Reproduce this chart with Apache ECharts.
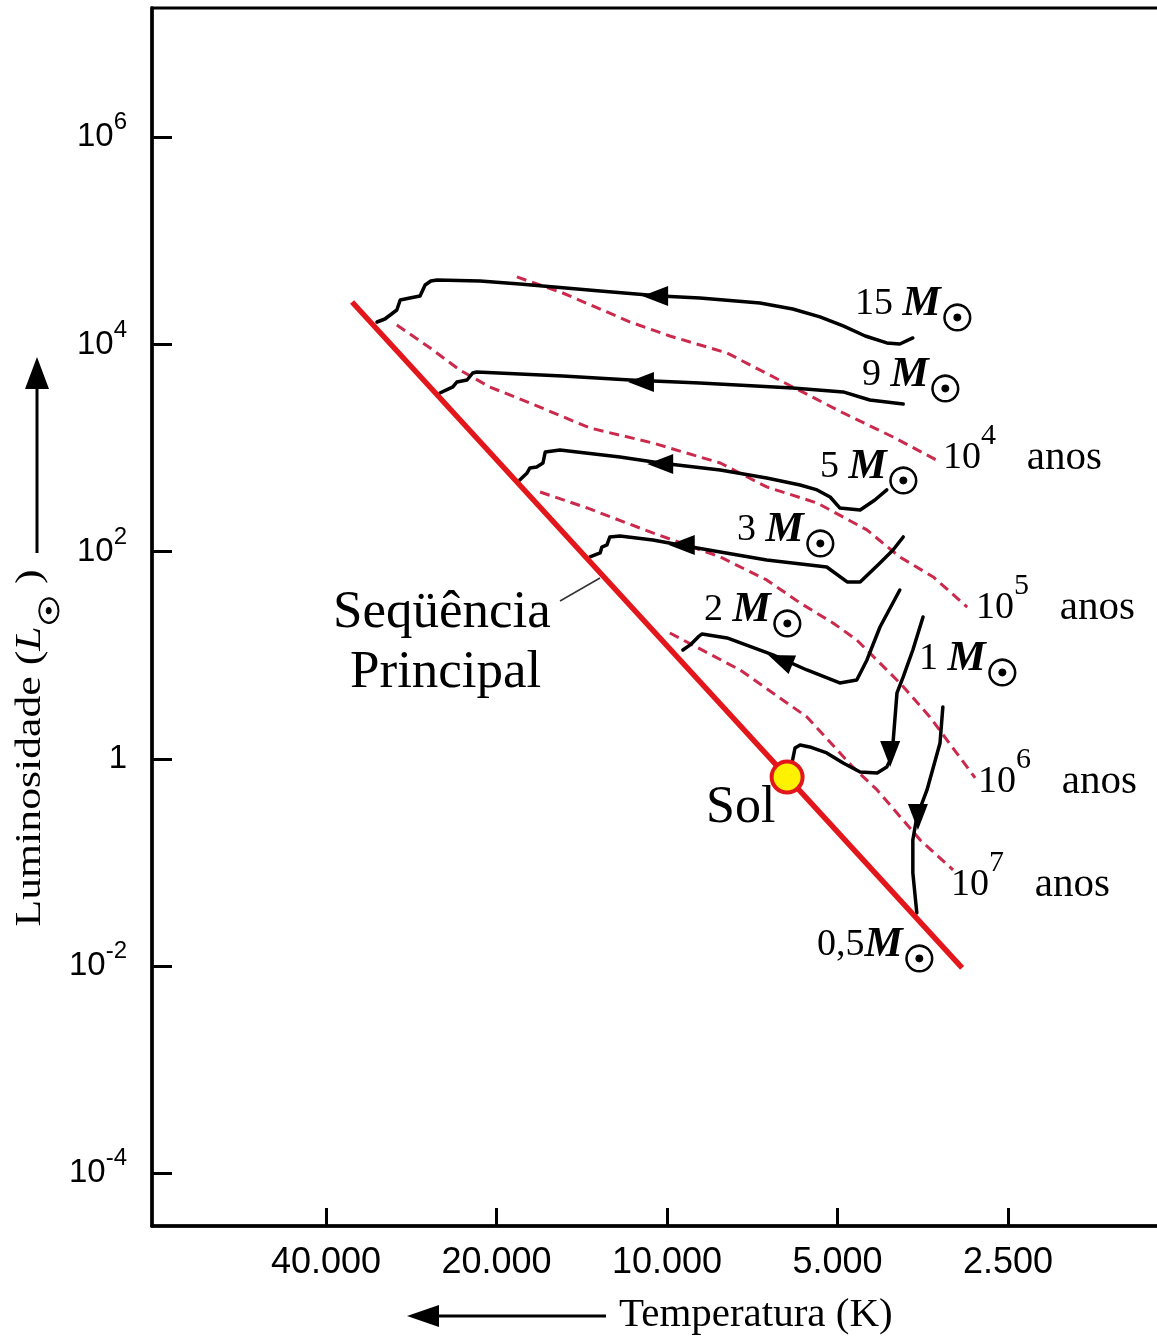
<!DOCTYPE html>
<html><head><meta charset="utf-8">
<script src="https://cdn.jsdelivr.net/npm/echarts@6/dist/echarts.min.js"></script>
<style>html,body{margin:0;padding:0;background:#fff}#c{width:1157px;height:1337px}</style>
</head><body><div id="c"></div>
<script>
// ---- tick definitions ----
const tempTicksK = [40000, 20000, 10000, 5000, 2500];
const tempTickLabels = ['40.000', '20.000', '10.000', '5.000', '2.500'];
const lumTickExp = [-4, -2, 0, 2, 4, 6];

// ---- data: [log10 T(K), log10 L(Lsun)] ----
const mainSequence = [[4.556, 4.410], [3.479, -2.018]];

const track15 = [[4.512,4.217],[4.498,4.246],[4.477,4.333],[4.471,4.430],[4.454,4.449],[4.436,4.468],[4.427,4.574],[4.417,4.613],[4.406,4.623],[4.330,4.613],[4.260,4.584],[4.118,4.516],[4.012,4.468],[3.942,4.449],[3.836,4.401],[3.778,4.343],[3.730,4.266],[3.689,4.179],[3.650,4.082],[3.612,4.015],[3.589,4.005],[3.566,4.063]];
const track9 = [[4.401,3.532],[4.378,3.590],[4.371,3.638],[4.353,3.657],[4.343,3.725],[4.336,3.735],[4.184,3.696],[4.065,3.657],[3.942,3.628],[3.778,3.580],[3.689,3.542],[3.642,3.464],[3.583,3.426]];
const track5 = [[4.260,2.692],[4.247,2.760],[4.242,2.808],[4.230,2.818],[4.219,2.856],[4.215,2.962],[4.189,2.982],[4.083,2.914],[4.012,2.856],[3.906,2.789],[3.824,2.711],[3.765,2.644],[3.735,2.596],[3.712,2.528],[3.695,2.422],[3.659,2.403],[3.633,2.499],[3.612,2.596]];
const track3 = [[4.136,1.949],[4.118,1.988],[4.115,2.045],[4.106,2.065],[4.101,2.142],[4.083,2.152],[4.025,2.113],[3.977,2.065],[3.906,1.997],[3.824,1.920],[3.718,1.852],[3.682,1.708],[3.659,1.708],[3.624,1.891],[3.601,2.016],[3.583,2.142]];
const track2 = [[3.972,1.051],[3.959,1.100],[3.945,1.177],[3.938,1.206],[3.894,1.167],[3.813,1.003],[3.753,0.858],[3.695,0.733],[3.665,0.762],[3.647,0.955],[3.624,1.273],[3.589,1.630]];
const track1 = [[3.548,1.370],[3.566,1.051],[3.583,0.791],[3.594,0.636],[3.601,0.154],[3.606,-0.011],[3.612,-0.078],[3.629,-0.136],[3.659,-0.126],[3.689,-0.040],[3.718,0.057],[3.748,0.115],[3.765,0.134],[3.774,0.105],[3.779,-0.030]];
const track05 = [[3.513,0.501],[3.518,0.154],[3.541,-0.300],[3.559,-0.561],[3.566,-0.783],[3.566,-1.101],[3.559,-1.487]];

const iso1e4 = [[4.265,4.652],[4.184,4.497],[4.065,4.217],[3.995,4.082],[3.894,3.918],[3.778,3.590],[3.689,3.339],[3.601,3.107],[3.518,2.866]];
const iso1e5 = [[4.477,4.188],[4.418,3.966],[4.366,3.754],[4.313,3.590],[4.242,3.435],[4.136,3.194],[4.025,3.049],[3.906,2.856],[3.824,2.625],[3.735,2.470],[3.647,2.210],[3.589,1.949],[3.530,1.756],[3.470,1.466]];
const iso1e6 = [[4.224,2.576],[4.141,2.422],[4.025,2.181],[3.906,1.949],[3.824,1.727],[3.765,1.505],[3.707,1.312],[3.665,1.148],[3.589,0.733],[3.536,0.405],[3.456,-0.184]];
const iso1e7 = [[3.995,1.215],[3.871,0.858],[3.753,0.405],[3.672,-0.078],[3.629,-0.300],[3.553,-0.783],[3.495,-1.072]];

// arrowheads on the tracks (position) and their direction (degrees, CCW from up)
const arrowPoints = [[4.021,4.468],[4.046,3.638],[4.012,2.846],[3.974,2.065],[3.800,0.955],[3.606,0.047],[3.557,-0.561]];
const arrowAngles = [90, 90, 90, 90, 68, 180, 180];

const sunPoint = [[3.788, -0.175]];

// ---- chart ----
const xTickVals = tempTicksK.map(t => Math.log10(t));
const chart = echarts.init(document.getElementById('c'));

function lineSeries(data, style, z) {
  return { type: 'line', data: data, symbol: 'none', showSymbol: false, silent: true,
    animation: false, z: z, lineStyle: style };
}
const trackStyle = { color: '#000', width: 3.5, join: 'round', cap: 'round' };
const isoStyle = { color: '#cc2a4c', width: 3, type: [10, 6] };

const serif = 'Liberation Serif';
const massRich = {
  n: { fontFamily: serif, fontSize: 38, lineHeight: 44, fill: '#000' },
  m: { fontFamily: serif, fontSize: 43, fontWeight: 'bold', fontStyle: 'italic', lineHeight: 44, fill: '#000' },
  o: { fontFamily: 'DejaVu Sans', fontSize: 37, lineHeight: 44, verticalAlign: 'bottom', height: 10,
       fill: '#000', stroke: '#000', lineWidth: 1.2 }
};
const isoRich = {
  n: { fontFamily: serif, fontSize: 38, lineHeight: 46, fill: '#000' },
  s: { fontFamily: serif, fontSize: 30, lineHeight: 46, verticalAlign: 'top', height: 2, fill: '#000' },
  a: { fontFamily: serif, fontSize: 41, lineHeight: 46, fill: '#000' }
};
function massText(x, y, num) {
  return { type: 'text', x: x, y: y, z: 10, style: { text: '{n|' + num + '}{m|M}{o|☉}', rich: massRich,
    align: 'left', verticalAlign: 'middle', fill: '#000' } };
}
function isoText(x, y, e) {
  return { type: 'text', x: x, y: y, z: 10, style: { text: '{n|10}{s|' + e + '}{a|   anos}', rich: isoRich,
    align: 'left', verticalAlign: 'middle', fill: '#000' } };
}
function plain(x, y, txt, size) {
  return { type: 'text', x: x, y: y, z: 10, style: { text: txt, fontFamily: serif, fontSize: size,
    fill: '#000', align: 'left', verticalAlign: 'middle' } };
}

const option = {
  animation: false,
  backgroundColor: '#fff',
  grid: { left: 152, top: 8, width: 1015, height: 1218, show: true, borderColor: '#000', borderWidth: 3,
    backgroundColor: 'transparent', containLabel: false, outerBoundsMode: 'none' },
  xAxis: {
    type: 'value', position: 'bottom', inverse: true, min: 3.1173, max: 4.9092,
    splitLine: { show: false },
    axisLine: { show: true, onZero: false, lineStyle: { color: '#000', width: 3.5 } },
    axisTick: { show: true, inside: true, length: 18, lineStyle: { color: '#000', width: 3 }, customValues: xTickVals },
    axisLabel: { show: true, margin: 19, fontSize: 36, fontFamily: 'Liberation Sans', color: '#000',
      customValues: xTickVals,
      formatter: function (v) {
        for (let i = 0; i < xTickVals.length; i++) if (Math.abs(xTickVals[i] - v) < 1e-6) return tempTickLabels[i];
        return '';
      } }
  },
  yAxis: {
    type: 'value', position: 'left', min: -4.509, max: 7.248,
    splitLine: { show: false },
    axisLine: { show: true, onZero: false, lineStyle: { color: '#000', width: 3.5 } },
    axisTick: { show: true, inside: true, length: 20, lineStyle: { color: '#000', width: 3 }, customValues: lumTickExp },
    axisLabel: { show: true, margin: 25, color: '#000', customValues: lumTickExp,
      formatter: function (v) {
        const e = Math.round(v);
        return e === 0 ? '{b|1}' : '{b|10}{s|' + e + '}';
      },
      rich: {
        b: { fontSize: 33, fontFamily: 'Liberation Sans', lineHeight: 32, color: '#000' },
        s: { fontSize: 24, fontFamily: 'Liberation Sans', lineHeight: 32, verticalAlign: 'top', height: 3, color: '#000' }
      } }
  },
  series: [
    lineSeries(iso1e4, isoStyle, 2),
    lineSeries(iso1e5, isoStyle, 2),
    lineSeries(iso1e6, isoStyle, 2),
    lineSeries(iso1e7, isoStyle, 2),
    lineSeries(track15, trackStyle, 3),
    lineSeries(track9, trackStyle, 3),
    lineSeries(track5, trackStyle, 3),
    lineSeries(track3, trackStyle, 3),
    lineSeries(track2, trackStyle, 3),
    lineSeries(track1, trackStyle, 3),
    lineSeries(track05, trackStyle, 3),
    lineSeries(mainSequence, { color: '#e3161b', width: 5.5, cap: 'butt' }, 4),
    { type: 'scatter', z: 5, silent: true, symbol: 'triangle', symbolSize: [20, 26],
      data: arrowPoints.map((p, i) => ({ value: p, symbolRotate: arrowAngles[i] })),
      itemStyle: { color: '#000', opacity: 1 } },
    { type: 'scatter', z: 6, silent: true, symbol: 'circle', symbolSize: 31, data: sunPoint,
      itemStyle: { color: '#fff200', borderColor: '#e3161b', borderWidth: 4, opacity: 1 } }
  ],
  graphic: [
    massText(855, 304, '15 '),
    massText(862, 375, '9 '),
    massText(820, 467, '5 '),
    massText(737, 530, '3 '),
    massText(704, 610, '2 '),
    massText(919, 659, '1 '),
    massText(817, 945, '0,5'),
    isoText(943, 458, 4),
    isoText(976, 608, 5),
    isoText(978, 782, 6),
    isoText(951, 885, 7),
    plain(333, 613, 'Seqüência', 53),
    plain(350, 673, 'Principal', 53),
    plain(706, 808, 'Sol', 52),
    { type: 'line', z: 10, shape: { x1: 560, y1: 601, x2: 600, y2: 578 }, style: { stroke: '#333', lineWidth: 1.5 } },
    // y-axis title with arrow
    { type: 'text', x: 31, y: 748, rotation: Math.PI / 2, scaleX: 1.25, z: 10,
      style: { text: '{t|Luminosidade (}{l|L}{o|☉}{t| )}', align: 'center', verticalAlign: 'middle', fill: '#000',
        rich: {
          t: { fontFamily: serif, fontSize: 35, lineHeight: 44, fill: '#000' },
          l: { fontFamily: serif, fontSize: 35, fontStyle: 'italic', lineHeight: 44, fill: '#000' },
          o: { fontFamily: 'DejaVu Sans', fontSize: 28, lineHeight: 44, verticalAlign: 'bottom', height: 2,
               fill: '#000', stroke: '#000', lineWidth: 0.8 }
        } } },
    { type: 'line', z: 10, shape: { x1: 37, y1: 553, x2: 37, y2: 382 }, style: { stroke: '#000', lineWidth: 3 } },
    { type: 'polygon', z: 10, shape: { points: [[37, 357], [25, 389], [49, 389]] }, style: { fill: '#000' } },
    // x-axis title with arrow
    plain(619, 1315, 'Temperatura (K)', 41),
    { type: 'line', z: 10, shape: { x1: 606, y1: 1316, x2: 432, y2: 1316 }, style: { stroke: '#000', lineWidth: 3 } },
    { type: 'polygon', z: 10, shape: { points: [[407, 1316], [439, 1305], [439, 1327]] }, style: { fill: '#000' } }
  ]
};
chart.setOption(option);
</script></body></html>
